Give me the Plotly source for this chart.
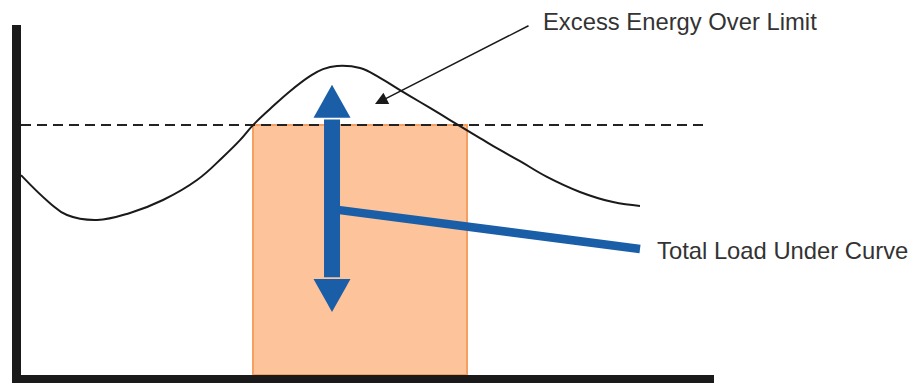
import plotly.graph_objects as go

# ---- data (abstract units: x 0..100 time, y 0..100 load) ----
curve_x = [0, 4.18, 6.64, 10.97, 15.73, 20.49, 25.40, 29.15, 31.60, 33.48, 35.93,
           38.82, 41.70, 43.58, 45.60, 48.92, 51.80, 54.69, 57.58, 60.46, 63.35,
           66.23, 69.12, 72.01, 75.90, 80.66, 85.43, 89.32]
curve_y = [57.1, 49.1, 45.7, 44.3, 46.3, 50.0, 55.7, 62.3, 67.1, 71.4, 76.0,
           81.1, 85.4, 87.4, 88.3, 87.7, 84.9, 81.4, 78.0, 74.6, 71.1,
           67.7, 64.3, 61.1, 56.6, 52.3, 49.4, 48.3]
limit_y = 71.4
limit_x_end = 98.85
window_start = 33.48
window_end = 64.36
arrow_x = 44.88
arrow_top = 82.9
arrow_bottom = 18.0
leader_start = [44.88, 47.4]
leader_end = [89.32, 36.0]
excess_tip = [51.08, 77.4]
excess_tail = [73.45, 100.0]
label_excess = "Excess Energy Over Limit"
label_excess_pos = [75.1, 100.9]
label_total = "Total Load Under Curve"
label_total_pos = [91.5, 35.7]

# ---- style ----
W, H = 914, 383
ML, MR, MT, MB = 21, 200, 25, 8
PW, PH = W - ML - MR, H - MT - MB
px_x = 100.0 / PW   # data units per pixel
px_y = 100.0 / PH
BLUE = "#1b5ea8"
INK = "#1a1a1a"
TXT = "#333333"
FONT = "Liberation Sans, Arial, sans-serif"
head_len, head_half = 33, 18.5

fig = go.Figure()

# load window (rectangle)
fig.add_shape(type="rect", x0=window_start, x1=window_end, y0=0, y1=limit_y,
              xref="x", yref="y", fillcolor="#fdc49b",
              line=dict(color="#f5a062", width=2), layer="below")

# limit line
fig.add_trace(go.Scatter(x=[0, limit_x_end], y=[limit_y, limit_y], mode="lines",
                         line=dict(color="#222222", width=2, dash="10px,6px"),
                         hoverinfo="skip", showlegend=False))

# load curve
fig.add_trace(go.Scatter(x=curve_x, y=curve_y, mode="lines",
                         line=dict(color=INK, width=2, shape="spline", smoothing=1.2),
                         hoverinfo="skip", showlegend=False))

# leader line to label
fig.add_trace(go.Scatter(x=[leader_start[0], leader_end[0]], y=[leader_start[1], leader_end[1]],
                         mode="lines", line=dict(color=BLUE, width=8.5),
                         hoverinfo="skip", showlegend=False))

# double arrow shaft
top_base = arrow_top - head_len * px_y
bot_base = arrow_bottom + head_len * px_y
fig.add_trace(go.Scatter(x=[arrow_x, arrow_x], y=[top_base - 0.5, bot_base + 0.5], mode="lines",
                         line=dict(color=BLUE, width=16),
                         hoverinfo="skip", showlegend=False))
# heads
hw = head_half * px_x
fig.add_trace(go.Scatter(x=[arrow_x - hw, arrow_x + hw, arrow_x, arrow_x - hw],
                         y=[top_base, top_base, arrow_top, top_base],
                         mode="lines", fill="toself", fillcolor=BLUE,
                         line=dict(color=BLUE, width=0), hoverinfo="skip", showlegend=False))
fig.add_trace(go.Scatter(x=[arrow_x - hw, arrow_x + hw, arrow_x, arrow_x - hw],
                         y=[bot_base, bot_base, arrow_bottom, bot_base],
                         mode="lines", fill="toself", fillcolor=BLUE,
                         line=dict(color=BLUE, width=0), hoverinfo="skip", showlegend=False))

# pointer arrow to excess region
fig.add_annotation(x=excess_tip[0], y=excess_tip[1], ax=excess_tail[0], ay=excess_tail[1],
                   xref="x", yref="y", axref="x", ayref="y", text="",
                   showarrow=True, arrowhead=2, arrowsize=1.7, arrowwidth=1.5,
                   arrowcolor=INK)

fig.add_annotation(x=label_excess_pos[0], y=label_excess_pos[1] / 100.0, xref="x", yref="paper",
                   text=label_excess, showarrow=False, xanchor="left", yanchor="middle",
                   font=dict(family=FONT, size=23.8, color=TXT))
fig.add_annotation(x=label_total_pos[0], y=label_total_pos[1], xref="x", yref="y",
                   text=label_total, showarrow=False, xanchor="left", yanchor="middle",
                   font=dict(family=FONT, size=23.8, color=TXT))

fig.update_layout(
    width=W, height=H, margin=dict(l=ML, r=MR, t=MT, b=MB, pad=0),
    paper_bgcolor="white", plot_bgcolor="white",
    xaxis=dict(range=[0, 100], showline=True, linewidth=9, linecolor=INK,
               showgrid=False, zeroline=False, showticklabels=False, ticks=""),
    yaxis=dict(range=[0, 100], showline=True, linewidth=9, linecolor=INK,
               showgrid=False, zeroline=False, showticklabels=False, ticks=""),
)

fig.write_html("out.html", config={"displayModeBar": False},
               post_script="document.body.style.margin='0';")
